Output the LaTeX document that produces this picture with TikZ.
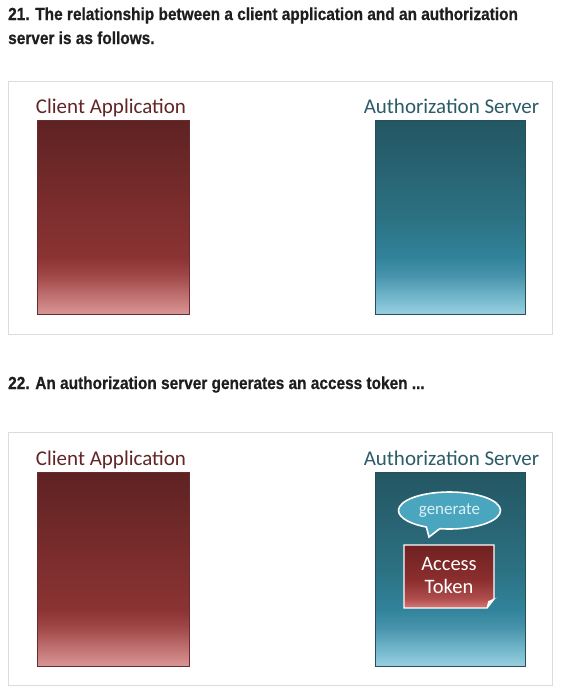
\documentclass[tikz,border=0pt]{standalone}
\usepackage{fontspec}
\setmainfont{Carlito}
\newfontfamily\headfont[FakeStretch=0.88,FakeBold=0.6]{Liberation Sans}
\usetikzlibrary{calc,positioning,shapes}

\definecolor{clientred}{HTML}{622626}
\definecolor{clientedge}{HTML}{6A2A32}
\definecolor{servertext}{HTML}{2C5C68}
\definecolor{serveredge}{HTML}{24505C}
\definecolor{panelgray}{HTML}{DCDCDC}
\definecolor{bubblefill}{HTML}{4AA5BE}
\definecolor{bubbletext}{HTML}{DDF0F5}
\definecolor{headtext}{HTML}{1E1E1E}

\pgfdeclareverticalshading{clientshade}{100bp}{color(0bp)=(rgb,255:red,216;green,150;blue,150); color(25bp)=(rgb,255:red,216;green,150;blue,150); color(30bp)=(rgb,255:red,191;green,110;blue,110); color(35bp)=(rgb,255:red,160;green,72;blue,72); color(39.5bp)=(rgb,255:red,139;green,51;blue,51); color(50bp)=(rgb,255:red,127;green,46;blue,46); color(65bp)=(rgb,255:red,107;green,39;blue,39); color(75bp)=(rgb,255:red,94;green,34;blue,34); color(100bp)=(rgb,255:red,94;green,34;blue,34)}
\pgfdeclareverticalshading{servershade}{100bp}{color(0bp)=(rgb,255:red,152;green,207;blue,224); color(25bp)=(rgb,255:red,152;green,207;blue,224); color(30bp)=(rgb,255:red,110;green,179;blue,200); color(35bp)=(rgb,255:red,71;green,147;blue,171); color(39.5bp)=(rgb,255:red,49;green,131;blue,155); color(50bp)=(rgb,255:red,44;green,113;blue,130); color(65bp)=(rgb,255:red,39;green,96;blue,111); color(75bp)=(rgb,255:red,36;green,87;blue,99); color(100bp)=(rgb,255:red,36;green,87;blue,99)}
\pgfdeclareverticalshading{tokenshade}{100bp}{color(0bp)=(rgb,255:red,214;green,122;blue,122); color(25bp)=(rgb,255:red,214;green,122;blue,122); color(32.5bp)=(rgb,255:red,176;green,77;blue,77); color(47.5bp)=(rgb,255:red,139;green,46;blue,46); color(75bp)=(rgb,255:red,111;green,33;blue,33); color(100bp)=(rgb,255:red,111;green,33;blue,33)}

\begin{document}
\begin{tikzpicture}[x=1pt, y=-1pt,
  headline/.style={anchor=base west,inner sep=0pt,text=headtext,font=\headfont\bfseries\fontsize{17.5}{21}\selectfont},
  panel/.style={draw=panelgray,line width=1pt,minimum width=544pt,minimum height=253pt,inner sep=0pt},
  boxlabel/.style={anchor=base,inner sep=0pt,font=\fontsize{21}{24}\selectfont},
  clientbox/.style={shading=clientshade,draw=clientedge,line width=1pt,minimum width=152pt,minimum height=194pt,inner sep=0pt},
  serverbox/.style={shading=servershade,draw=serveredge,line width=1pt,minimum width=150pt,minimum height=194pt,inner sep=0pt},
  bubble/.style={fill=bubblefill,draw=white,line width=1.6pt},
  tokenbox/.style={shading=tokenshade,draw=white,line width=1.4pt}]
\useasboundingbox[fill=white] (0,0) rectangle (562,696);

% first picture
\node[headline] (headA) at (8,20) {21. The relationship between a client application and an authorization};
\node[headline] (headB) at (8,44) {server is as follows.};
\node[panel] (panelA) at (280,207.5) {};
\node[boxlabel,text=clientred] (clientlabA) at (111,113) {Client Application};
\node[boxlabel,text=servertext] (serverlabA) at (451.5,113) {Authorization Server};
\node[clientbox] (clientA) at (113,217) {};
\node[serverbox] (serverA) at (450,217) {};

% second picture
\node[headline] (headC) at (8,389) {22. An authorization server generates an access token ...};
\node[panel] (panelB) at (280,559) {};
\node[boxlabel,text=clientred] (clientlabB) at (111,465) {Client Application};
\node[boxlabel,text=servertext] (serverlabB) at (451.5,465) {Authorization Server};
\node[clientbox] (clientB) at (113,569) {};
\node[serverbox] (serverB) at (450,569) {};

% speech bubble with its tail
\coordinate (bubc) at (449.5,510.5);
\coordinate (tailtip) at (429,537);
\filldraw[bubble] ($(bubc)+(117:51 and 18.5)$) -- (tailtip) -- ($(bubc)+(101:51 and 18.5)$)
  arc[start angle=101,end angle=-243,x radius=51,y radius=18.5] -- cycle;
\node[text=bubbletext,font=\fontsize{17}{20}\selectfont] (generate) at (bubc) {generate};

% access token with a turned corner
\shade[tokenbox] (404,545) coordinate (tokennw) -- (494,545) -- (494,599) coordinate (foldA)
  -- (487,608) coordinate (foldB) -- (404,608) -- cycle;
\filldraw[fill=black!12,draw=white,line width=0.8pt] (foldB) .. controls (489,603) .. (494,599) -- (488.5,601.5) -- cycle;
\node[text=white,align=center,font=\fontsize{20.5}{23}\selectfont] (token) at (449,575.5) {Access\\Token};
\end{tikzpicture}
\end{document}
